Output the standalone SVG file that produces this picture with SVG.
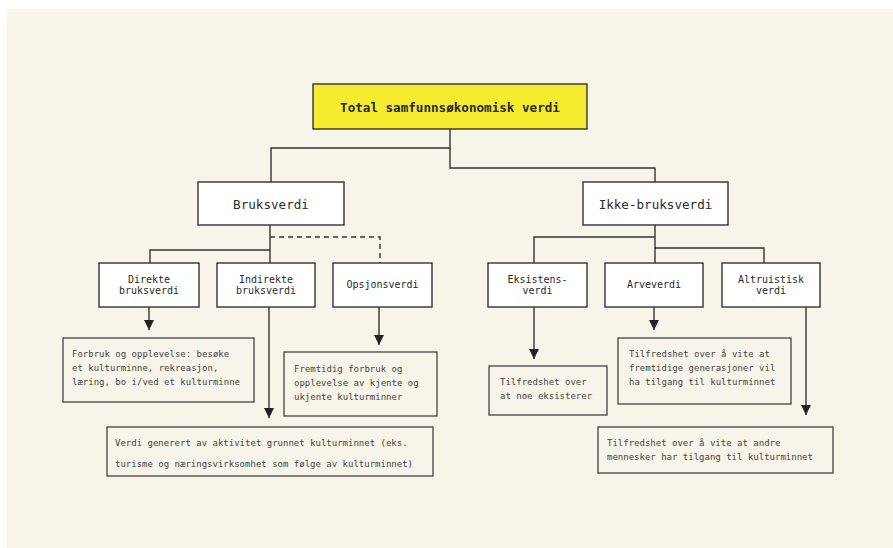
<svg xmlns="http://www.w3.org/2000/svg" width="893" height="548" viewBox="0 0 893 548">
<style>
.node{fill:#ffffff;stroke:#333333;stroke-width:1.4}
.desc{fill:#f7f4e9;stroke:#444444;stroke-width:1.3}
.conn{fill:none;stroke:#333333;stroke-width:1.4}
.dash{stroke-dasharray:5,4}
.t{font-family:"DejaVu Sans Mono","Liberation Mono",monospace;fill:#2a2a2a}
.lbl{font-size:10px;text-anchor:middle}
.big{font-size:12.6px;text-anchor:middle}
.d{font-size:9px;fill:#444444}
</style>
<defs>
<marker id="arr" markerUnits="userSpaceOnUse" markerWidth="10" markerHeight="11" refX="10" refY="5" orient="auto">
<path d="M0,0 L10,5 L0,10 z" fill="#222222"/>
</marker>
</defs>
<rect x="0" y="0" width="893" height="548" fill="#ffffff"/>
<rect x="7" y="9" width="886" height="539" fill="#f7f4e9"/>

<g id="connectors">
<path class="conn" d="M450,129 V148 H271 V182"/>
<path class="conn" d="M450,148 V168 H655 V182"/>
<path class="conn" d="M270,225 V263"/>
<path class="conn" d="M270,250 H150 V263"/>
<path class="conn dash" d="M270,237 H380 V263"/>
<path class="conn" d="M655,225 V263"/>
<path class="conn" d="M655,237 H534 V263"/>
<path class="conn" d="M655,248 H764 V263"/>
<path class="conn" d="M149,307 V330" marker-end="url(#arr)"/>
<path class="conn" d="M269,307 V418" marker-end="url(#arr)"/>
<path class="conn" d="M379,307 V345" marker-end="url(#arr)"/>
<path class="conn" d="M534,307 V359" marker-end="url(#arr)"/>
<path class="conn" d="M654,307 V330" marker-end="url(#arr)"/>
<path class="conn" d="M806,307 V415" marker-end="url(#arr)"/>
</g>

<g id="total">
<rect x="313" y="84" width="274" height="45" fill="#f5ec30" stroke="#333333" stroke-width="1.4"/>
<text class="t big" x="450" y="111.5" font-weight="bold">Total samfunnsøkonomisk verdi</text>
</g>

<g id="bruksverdi">
<rect class="node" x="198" y="182" width="146" height="43"/>
<text class="t big" x="271" y="208.5">Bruksverdi</text>
</g>

<g id="ikke-bruksverdi">
<rect class="node" x="583" y="182" width="145" height="43"/>
<text class="t big" x="655.5" y="208.5">Ikke-bruksverdi</text>
</g>

<g id="direkte">
<rect class="node" x="99" y="263" width="100" height="44"/>
<text class="t lbl" x="149" y="282.5">Direkte</text>
<text class="t lbl" x="149" y="293.5">bruksverdi</text>
</g>

<g id="indirekte">
<rect class="node" x="217" y="263" width="98" height="44"/>
<text class="t lbl" x="266" y="282.5">Indirekte</text>
<text class="t lbl" x="266" y="293.5">bruksverdi</text>
</g>

<g id="opsjonsverdi">
<rect class="node" x="333" y="263" width="99" height="44"/>
<text class="t lbl" x="382.5" y="288">Opsjonsverdi</text>
</g>

<g id="eksistensverdi">
<rect class="node" x="488" y="263" width="99" height="44"/>
<text class="t lbl" x="537.5" y="282.5">Eksistens-</text>
<text class="t lbl" x="537.5" y="293.5">verdi</text>
</g>

<g id="arveverdi">
<rect class="node" x="605" y="263" width="98" height="44"/>
<text class="t lbl" x="654" y="288">Arveverdi</text>
</g>

<g id="altruistisk">
<rect class="node" x="722" y="263" width="98" height="44"/>
<text class="t lbl" x="771" y="282.5">Altruistisk</text>
<text class="t lbl" x="771" y="293.5">verdi</text>
</g>

<g id="desc-direkte">
<rect class="desc" x="63" y="338" width="191" height="64"/>
<text class="t d" x="72" y="357">Forbruk og opplevelse: besøke</text>
<text class="t d" x="72" y="371">et kulturminne, rekreasjon,</text>
<text class="t d" x="72" y="385">læring, bo i/ved et kulturminne</text>
</g>

<g id="desc-opsjon">
<rect class="desc" x="284" y="352" width="153" height="64"/>
<text class="t d" x="294" y="372">Fremtidig forbruk og</text>
<text class="t d" x="294" y="386">opplevelse av kjente og</text>
<text class="t d" x="294" y="400">ukjente kulturminner</text>
</g>

<g id="desc-indirekte">
<rect class="desc" x="107" y="427" width="326" height="49"/>
<text class="t d" x="115" y="446">Verdi generert av aktivitet grunnet kulturminnet (eks.</text>
<text class="t d" x="115" y="467">turisme og næringsvirksomhet som følge av kulturminnet)</text>
</g>

<g id="desc-eksistens">
<rect class="desc" x="489" y="366" width="118" height="49"/>
<text class="t d" x="500" y="385">Tilfredshet over</text>
<text class="t d" x="500" y="399">at noe eksisterer</text>
</g>

<g id="desc-arv">
<rect class="desc" x="618" y="338" width="173" height="66"/>
<text class="t d" x="629" y="357">Tilfredshet over å vite at</text>
<text class="t d" x="629" y="371">fremtidige generasjoner vil</text>
<text class="t d" x="629" y="385">ha tilgang til kulturminnet</text>
</g>

<g id="desc-altruistisk">
<rect class="desc" x="598" y="427" width="235" height="46"/>
<text class="t d" x="607" y="446">Tilfredshet over å vite at andre</text>
<text class="t d" x="607" y="460">mennesker har tilgang til kulturminnet</text>
</g>
</svg>
